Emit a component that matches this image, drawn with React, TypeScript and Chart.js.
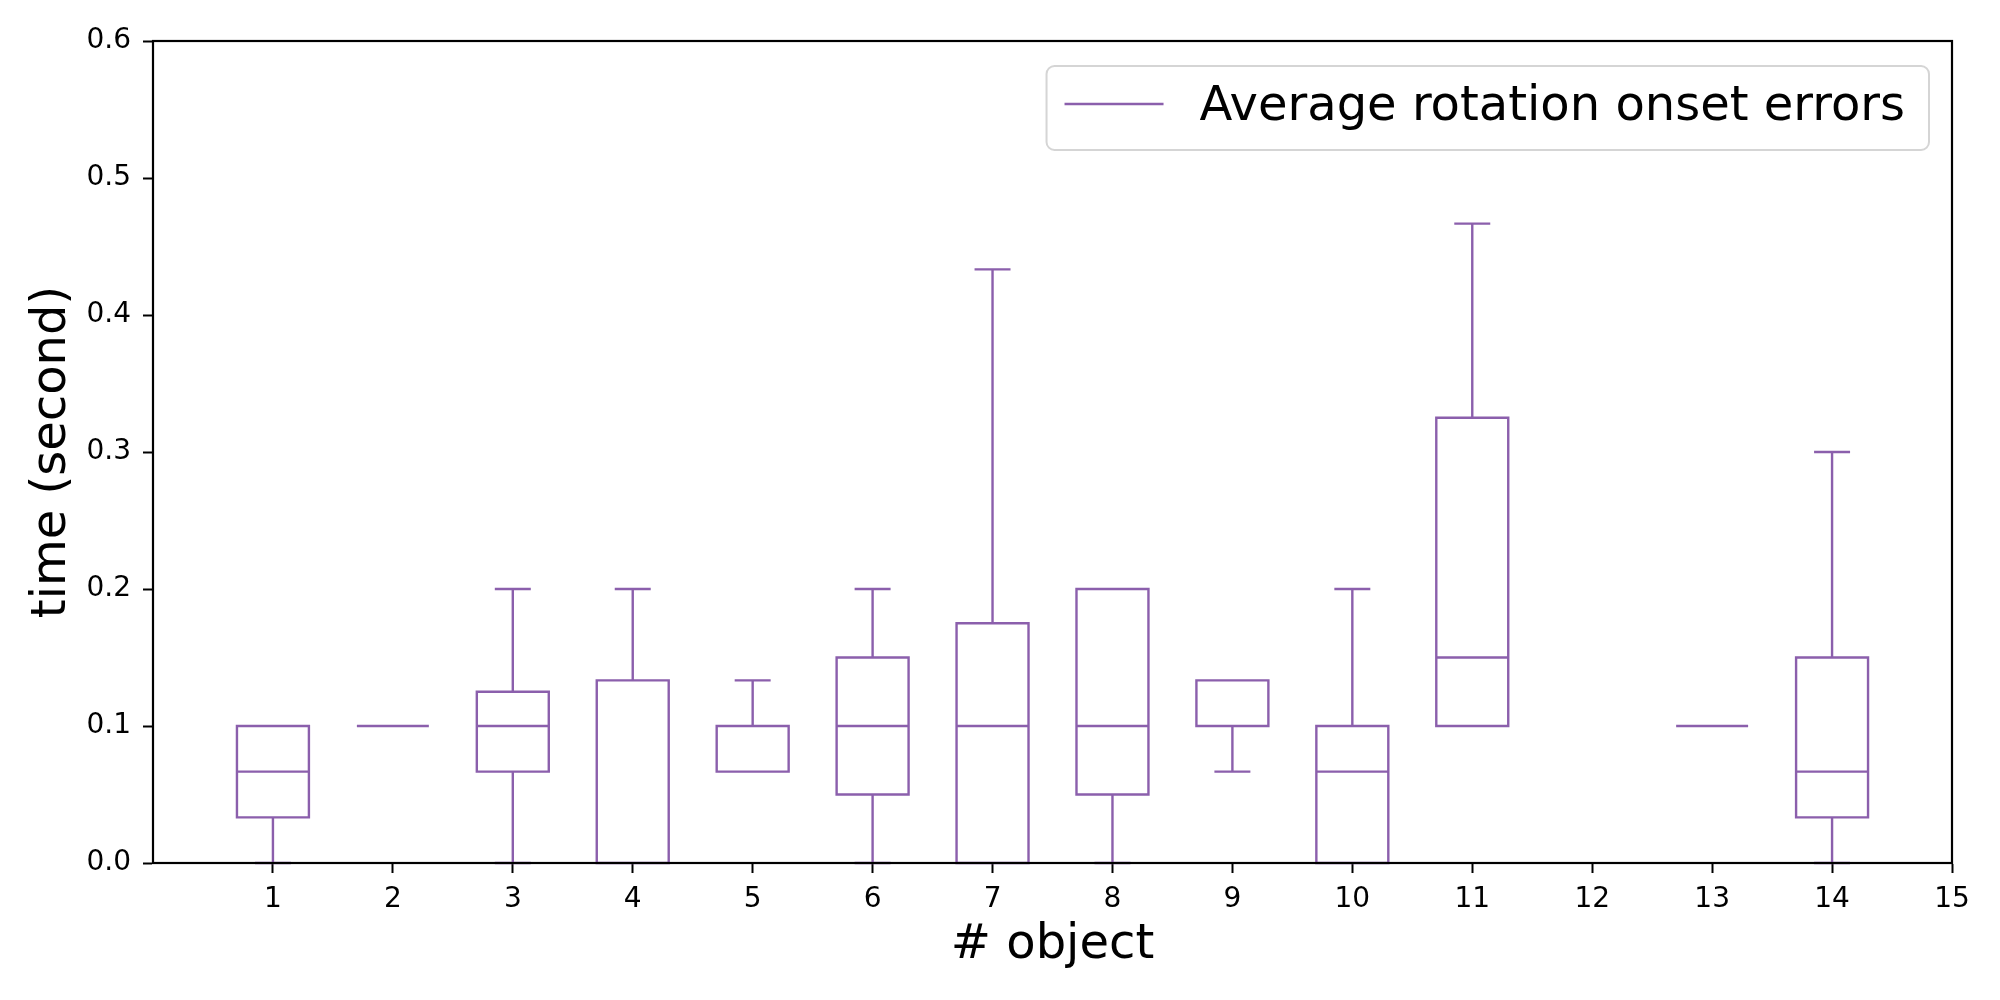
import React, { useEffect, useRef } from 'react';
import { Chart, registerables } from 'chart.js';

Chart.register(...registerables);

// box plot statistics per object (seconds); null = no data
const objects = [1, 2, 3, 4, 5, 6, 7, 8, 9, 10, 11, 12, 13, 14];
const whiskerLow = [0, 0.1, 0, 0, 0.0667, 0, 0, 0, 0.0667, 0, 0.1, null, 0.1, 0];
const q1 = [0.0333, 0.1, 0.0667, 0, 0.0667, 0.05, 0, 0.05, 0.1, 0, 0.1, null, 0.1, 0.0333];
const median = [0.0667, 0.1, 0.1, 0, 0.1, 0.1, 0.1, 0.1, 0.1, 0.0667, 0.15, null, 0.1, 0.0667];
const q3 = [0.1, 0.1, 0.125, 0.1333, 0.1, 0.15, 0.175, 0.2, 0.1333, 0.1, 0.325, null, 0.1, 0.15];
const whiskerHigh = [0.1, 0.1, 0.2, 0.2, 0.1333, 0.2, 0.4333, 0.2, 0.1333, 0.2, 0.4667, null, 0.1, 0.3];

const legendLabel = 'Average rotation onset errors';
const xTitle = '# object';
const yTitle = 'time (second)';

const PURPLE = '#8b5fac';
const FONT = "'DejaVu Sans', sans-serif";

const boxPlotPlugin = {
  id: 'boxPlot',
  afterDatasetsDraw(chart: any) {
    const { ctx, chartArea } = chart;
    const x = chart.scales.x;
    const y = chart.scales.y;

    ctx.save();
    ctx.strokeStyle = PURPLE;
    ctx.lineWidth = 2.4;
    objects.forEach((obj, i) => {
      if (q1[i] == null) return;
      const xl = x.getPixelForValue(obj - 0.3);
      const xr = x.getPixelForValue(obj + 0.3);
      const xc = x.getPixelForValue(obj);
      const cl = x.getPixelForValue(obj - 0.15);
      const cr = x.getPixelForValue(obj + 0.15);
      const yLo = y.getPixelForValue(whiskerLow[i]);
      const yQ1 = y.getPixelForValue(q1[i]);
      const yMed = y.getPixelForValue(median[i]);
      const yQ3 = y.getPixelForValue(q3[i]);
      const yHi = y.getPixelForValue(whiskerHigh[i]);

      ctx.beginPath();
      // whiskers + caps
      ctx.moveTo(xc, yQ1);
      ctx.lineTo(xc, yLo);
      ctx.moveTo(cl, yLo);
      ctx.lineTo(cr, yLo);
      ctx.moveTo(xc, yQ3);
      ctx.lineTo(xc, yHi);
      ctx.moveTo(cl, yHi);
      ctx.lineTo(cr, yHi);
      // box
      ctx.moveTo(xl, yQ1);
      ctx.lineTo(xr, yQ1);
      ctx.lineTo(xr, yQ3);
      ctx.lineTo(xl, yQ3);
      ctx.closePath();
      // median
      ctx.moveTo(xl, yMed);
      ctx.lineTo(xr, yMed);
      ctx.stroke();
    });

    // frame on top, like matplotlib spines
    ctx.strokeStyle = '#000';
    ctx.lineWidth = 2.2;
    ctx.strokeRect(chartArea.left, chartArea.top, chartArea.right - chartArea.left, chartArea.bottom - chartArea.top);

    // legend inside the plot, upper right
    const label = chart.data.datasets[0].label;
    ctx.font = `48px ${FONT}`;
    const tw = ctx.measureText(label).width;
    const right = chartArea.right - 23;
    const top = chartArea.top + 25;
    const w = 18 + 99 + 36 + tw + 24;
    const h = 84;
    const left = right - w;
    ctx.beginPath();
    ctx.roundRect(left, top, w, h, 8);
    ctx.fillStyle = 'rgba(255,255,255,0.8)';
    ctx.fill();
    ctx.strokeStyle = '#d5d5d5';
    ctx.lineWidth = 2;
    ctx.stroke();

    ctx.beginPath();
    ctx.strokeStyle = chart.data.datasets[0].borderColor;
    ctx.lineWidth = 2.4;
    ctx.moveTo(left + 18, top + 38);
    ctx.lineTo(left + 117, top + 38);
    ctx.stroke();

    ctx.fillStyle = '#000';
    ctx.textAlign = 'left';
    ctx.textBaseline = 'alphabetic';
    ctx.fillText(label, left + 153, top + 54);
    ctx.restore();
  },
};

const BoxChart: React.FC = () => {
  const chartRef = useRef<HTMLCanvasElement>(null);
  const chartInstance = useRef<Chart>();

  useEffect(() => {
    if (chartRef.current) {
      chartInstance.current = new Chart(chartRef.current, {
        type: 'scatter',
        data: {
          datasets: [{ label: legendLabel, data: [], borderColor: PURPLE, backgroundColor: PURPLE }],
        },
        options: {
          animation: false,
          responsive: true,
          maintainAspectRatio: false,
          layout: { padding: { top: 41, right: 48, left: 0, bottom: 0 } },
          plugins: { legend: { display: false }, tooltip: { enabled: false } },
          scales: {
            x: {
              type: 'linear',
              min: 0,
              max: 15,
              afterBuildTicks: (scale: any) => {
                scale.ticks = scale.ticks.filter((t: any) => t.value !== 0);
              },
              afterFit: (scale: any) => {
                scale.height = 137;
              },
              ticks: {
                stepSize: 1,
                color: '#000',
                padding: 10,
                font: { family: FONT, size: 28 },
                callback: (v: any) => String(v),
              },
              grid: { drawOnChartArea: false, drawTicks: true, tickLength: 10, tickWidth: 2, tickColor: '#000' },
              border: { display: true, color: '#000', width: 2 },
              title: { display: true, text: xTitle, color: '#000', font: { family: FONT, size: 48 }, padding: { top: 0, bottom: 26 } },
            },
            y: {
              type: 'linear',
              min: 0,
              max: 0.6,
              afterFit: (scale: any) => {
                scale.width = 153;
              },
              ticks: {
                stepSize: 0.1,
                color: '#000',
                padding: 12,
                font: { family: FONT, size: 28 },
                callback: (v: any) => Number(v).toFixed(1),
              },
              grid: { drawOnChartArea: false, drawTicks: true, tickLength: 10, tickWidth: 2, tickColor: '#000' },
              border: { display: true, color: '#000', width: 2 },
              title: { display: true, text: yTitle, color: '#000', font: { family: FONT, size: 48 }, padding: { top: 24, bottom: 0 } },
            },
          },
        },
        plugins: [boxPlotPlugin],
      });
    }

    return () => {
      if (chartInstance.current) {
        chartInstance.current.destroy();
      }
    };
  }, []);

  return <canvas ref={chartRef} />;
};

export default function App() {
  return (
    <div style={{ position: 'fixed', left: 0, top: 0, width: 2000, height: 1000, background: '#fff' }}>
      <BoxChart />
    </div>
  );
}
